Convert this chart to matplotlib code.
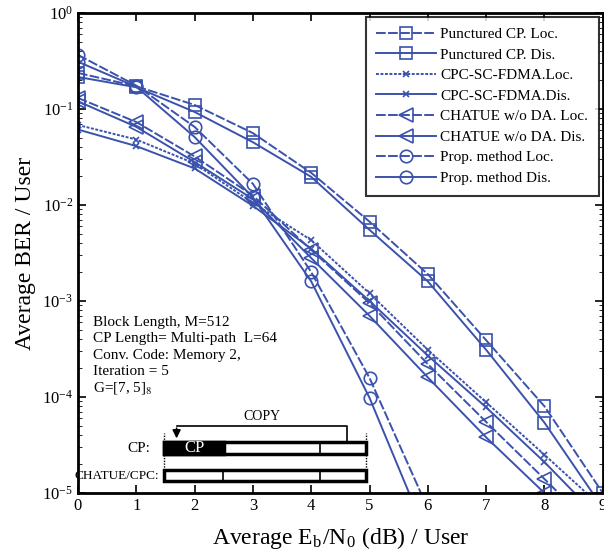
import numpy as np
import matplotlib
matplotlib.use('Agg')
import matplotlib.pyplot as plt
from matplotlib.patches import Rectangle

plt.rcParams['font.family'] = ['Liberation Serif', 'DejaVu Serif']
plt.rcParams['mathtext.fontset'] = 'stix'

snr = [0, 1, 2, 3, 4, 5, 6, 7, 8, 9]
snr_prop = [0, 1, 2, 3, 4, 5, 6]

punc_loc = [0.237, 0.172, 0.110, 0.056, 0.0216, 0.0067, 0.0019, 0.00039, 8.0e-5, 1.0e-5]
punc_dis = [0.215, 0.168, 0.093, 0.045, 0.0196, 0.0055, 0.0016, 0.00031, 5.4e-5, 7.0e-6]
cpc_loc = [0.068, 0.048, 0.027, 0.0105, 0.0043, 0.0012, 0.00031, 8.8e-5, 2.5e-5, 7.0e-6]
cpc_dis = [0.061, 0.041, 0.024, 0.0098, 0.0035, 0.00100, 0.00027, 7.8e-5, 2.1e-5, 5.0e-6]
chat_loc = [0.130, 0.073, 0.032, 0.0125, 0.0034, 0.00095, 0.00022, 5.5e-5, 1.4e-5, 3.5e-6]
chat_dis = [0.120, 0.065, 0.028, 0.0115, 0.0028, 0.00070, 0.00016, 3.8e-5, 1.0e-5, 2.5e-6]
prop_loc = [0.365, 0.175, 0.065, 0.0166, 0.0020, 1.58e-4, 6.9e-6]
prop_dis = [0.310, 0.170, 0.051, 0.0120, 0.0016, 9.8e-5, 3.4e-6]

info_lines = ['Block Length, M=512', 'CP Length= Multi-path  L=64',
              'Conv. Code: Memory 2,', 'Iteration = 5', r'G=[7, 5]$_8$']

col = '#3b52ad'
fig = plt.figure(figsize=(6.04, 5.59), dpi=100)
ax = fig.add_axes([0.129, 0.118, 0.869, 0.859])

loc_dash = (0, (5, 1.2))
dot_dash = (0, (1.5, 0.8))
common = dict(color=col, lw=1.4, mfc='none', mew=1.2)
ax.semilogy(snr, punc_loc, ls=loc_dash, marker='s', ms=9, label='Punctured CP. Loc.', **common)
ax.semilogy(snr, punc_dis, ls='-', marker='s', ms=9, label='Punctured CP. Dis.', **common)
ax.semilogy(snr, cpc_loc, ls=dot_dash, marker='x', ms=5, label='CPC-SC-FDMA.Loc.', **common)
ax.semilogy(snr, cpc_dis, ls='-', marker='x', ms=5, label='CPC-SC-FDMA.Dis.', **common)
ax.semilogy(snr, chat_loc, ls=loc_dash, marker='<', ms=10, label='CHATUE w/o DA. Loc.', **common)
ax.semilogy(snr, chat_dis, ls='-', marker='<', ms=10, label='CHATUE w/o DA. Dis.', **common)
ax.semilogy(snr_prop, prop_loc, ls=loc_dash, marker='o', ms=9, label='Prop. method Loc.', **common)
ax.semilogy(snr_prop, prop_dis, ls='-', marker='o', ms=9, label='Prop. method Dis.', **common)

ax.set_xlim(0, 9)
ax.set_ylim(1e-5, 1)
ax.set_xticks(range(10))
ax.tick_params(which='both', direction='in', top=True, right=True, labelsize=12)
ax.tick_params(which='major', length=6, width=1.2)
ax.tick_params(which='minor', length=3)
for s in ax.spines.values():
    s.set_linewidth(2)
ax.set_xlabel(r'Average E$_\mathregular{b}$/N$_\mathregular{0}$ (dB) / User', fontsize=17, labelpad=8)
ax.set_ylabel('Average BER / User', fontsize=17, labelpad=4)

leg = ax.legend(loc='upper right', fontsize=11, handlelength=3.9, frameon=True,
                fancybox=False, edgecolor='black', borderpad=0.7, labelspacing=0.45,
                borderaxespad=0.25, handletextpad=0.3)
leg.get_frame().set_linewidth(1.5)

# info text
for i, t in enumerate(info_lines):
    ax.text(0.028, 0.355 - i * 0.034, t, transform=ax.transAxes, fontsize=11, va='center')

# frame structure inset (axes coordinates)
tr = ax.transAxes
x0, x1 = 0.164, 0.549
xcp = 0.279
ax.add_patch(Rectangle((x0, 0.081), x1 - x0, 0.025, fill=False, lw=2.5, transform=tr, clip_on=False))
ax.add_patch(Rectangle((x0, 0.081), xcp - x0, 0.025, fc='black', ec='black', lw=2.5, transform=tr))
ax.text(0.222, 0.093, 'CP', color='white', transform=tr, fontsize=12, ha='center', va='center')
ax.plot([0.461, 0.461], [0.081, 0.106], color='black', lw=1.2, transform=tr)
ax.add_patch(Rectangle((x0, 0.025), x1 - x0, 0.022, fill=False, lw=2.5, transform=tr))
ax.plot([0.276, 0.276], [0.025, 0.047], color='black', lw=1.2, transform=tr)
ax.plot([0.461, 0.461], [0.025, 0.047], color='black', lw=1.2, transform=tr)
for xx in (x0, x1):
    ax.plot([xx, xx], [0.025, 0.125], color='black', lw=1, ls=(0, (1, 1)), transform=tr)
ax.plot([0.512, 0.512, 0.188], [0.106, 0.140, 0.140], color='black', lw=1.2, transform=tr)
ax.annotate('', xy=(0.188, 0.108), xytext=(0.188, 0.141), xycoords=tr,
            arrowprops=dict(arrowstyle='-|>', color='black', lw=1.2, mutation_scale=12))
ax.text(0.35, 0.146, 'COPY', transform=tr, fontsize=10, ha='center', va='bottom')
ax.text(0.137, 0.093, 'CP:', transform=tr, fontsize=11, ha='right', va='center')
ax.text(0.155, 0.036, 'CHATUE/CPC:', transform=tr, fontsize=9.5, ha='right', va='center')

fig.savefig('out.png', dpi=100)
